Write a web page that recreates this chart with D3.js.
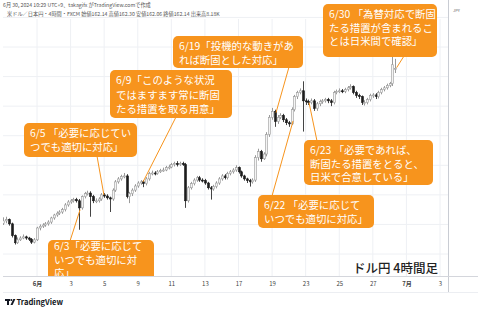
<!DOCTYPE html>
<meta charset="utf-8">
<script src="https://d3js.org/d3.v7.min.js"></script>
<style>
  body { margin: 0; background: #fff; }
  svg text { font-family: "Noto Sans CJK JP", "Noto Sans", sans-serif; }
</style>
<body>
<div id="chart"></div>
<script>
// USD/JPY 4h candles, early June -> 6/30
var opens = [159.52,159.56,159.58,159.51,159.31,159.19,159.24,159.27,159.29,159.27,
  159.25,159.20,159.24,159.44,159.47,159.49,159.51,159.54,159.61,159.66,
  159.69,159.71,159.75,159.83,159.88,159.90,159.92,159.90,159.78,159.97,
  160.02,160.03,159.97,159.90,159.90,159.93,160.00,159.98,159.95,159.93,
  160.08,160.22,160.27,160.31,160.32,159.97,160.02,160.08,160.15,160.20,
  160.22,160.19,160.27,160.36,160.37,160.36,160.39,160.41,160.42,160.46,
  160.47,160.51,160.53,160.51,160.53,160.51,159.90,160.12,160.19,160.25,
  160.29,160.25,160.24,160.20,160.12,160.10,160.14,160.20,160.27,160.32,
  160.29,160.36,160.39,160.42,160.46,160.39,160.32,160.27,160.24,160.22,
  160.25,160.63,160.73,160.61,160.69,161.02,161.31,161.41,161.24,161.31,
  161.34,161.27,161.22,161.20,161.44,161.66,161.73,161.76,161.59,161.58,
  161.56,161.59,161.46,161.54,161.58,161.59,161.61,161.59,161.56,161.73,
  161.75,161.76,161.75,161.78,161.81,161.83,161.73,161.68,161.66,161.56,
  161.56,161.61,161.68,161.69,161.66,161.73,161.78,161.81,161.85,161.88,
  162.14];
var highs = [159.62,159.63,159.60,159.53,159.33,159.28,159.30,159.33,159.31,159.29,
  159.27,159.27,159.46,159.50,159.52,159.54,159.57,159.63,159.68,159.72,
  159.74,159.78,159.86,159.91,159.93,159.95,159.95,159.93,159.99,160.05,
  160.07,160.06,160.00,159.94,159.96,160.03,160.03,160.01,159.97,160.11,
  160.25,160.30,160.34,160.37,160.35,160.05,160.11,160.18,160.23,160.25,
  160.25,160.30,160.39,160.41,160.40,160.42,160.44,160.46,160.49,160.51,
  160.54,160.56,160.57,160.56,160.56,160.54,160.15,160.22,160.28,160.32,
  160.32,160.28,160.27,160.22,160.15,160.17,160.23,160.30,160.35,160.35,
  160.39,160.42,160.45,160.50,160.48,160.41,160.34,160.29,160.27,160.28,
  160.67,160.78,160.76,160.72,161.06,161.35,161.47,161.44,161.35,161.38,
  161.37,161.30,161.25,161.48,161.69,161.76,161.80,161.92,161.63,161.61,
  161.63,161.62,161.57,161.61,161.62,161.64,161.64,161.62,161.76,161.78,
  161.80,161.79,161.81,161.84,161.87,161.85,161.76,161.71,161.68,161.60,
  161.64,161.71,161.72,161.72,161.76,161.81,161.84,161.88,161.91,162.35,
  162.30];
var lows = [159.49,159.52,159.48,159.28,159.16,159.17,159.22,159.25,159.24,159.22,
  159.17,159.18,159.22,159.40,159.44,159.46,159.48,159.51,159.58,159.63,
  159.66,159.68,159.72,159.80,159.85,159.87,159.87,159.41,159.75,159.94,
  159.99,159.63,159.86,159.86,159.87,159.90,159.95,159.92,159.71,159.90,
  160.05,160.19,160.24,160.28,159.94,159.86,159.98,160.05,160.12,160.17,
  160.13,160.16,160.24,160.33,160.33,160.34,160.37,160.39,160.40,160.43,
  160.45,160.48,160.48,160.49,160.49,159.78,159.87,160.09,160.16,160.22,
  160.22,160.21,160.17,160.09,159.92,160.07,160.11,160.17,160.24,160.26,
  160.26,160.33,160.36,160.39,160.36,160.29,160.24,160.20,160.14,160.19,
  160.22,160.58,160.56,160.59,160.65,160.98,161.27,161.15,161.20,161.28,
  161.23,161.18,161.15,161.18,161.41,161.62,161.70,161.07,161.52,161.52,
  161.53,161.42,161.42,161.50,161.54,161.56,161.55,161.50,161.53,161.70,
  161.72,161.72,161.72,161.75,161.78,161.70,161.64,161.62,161.52,161.51,
  161.53,161.58,161.64,161.62,161.63,161.70,161.75,161.78,161.82,161.84,
  162.06];
var closes = [159.56,159.58,159.51,159.31,159.19,159.24,159.27,159.29,159.27,159.25,
  159.20,159.24,159.44,159.47,159.49,159.51,159.54,159.61,159.66,159.69,
  159.71,159.75,159.83,159.88,159.90,159.92,159.90,159.78,159.97,160.02,
  160.03,159.97,159.90,159.90,159.93,160.00,159.98,159.95,159.93,160.08,
  160.22,160.27,160.31,160.32,159.97,160.02,160.08,160.15,160.20,160.22,
  160.19,160.27,160.36,160.37,160.36,160.39,160.41,160.42,160.46,160.47,
  160.51,160.53,160.51,160.53,160.51,159.90,160.12,160.19,160.25,160.29,
  160.25,160.24,160.20,160.12,160.10,160.14,160.20,160.27,160.32,160.29,
  160.36,160.39,160.42,160.46,160.39,160.32,160.27,160.24,160.22,160.25,
  160.63,160.73,160.61,160.69,161.02,161.31,161.41,161.24,161.31,161.34,
  161.27,161.22,161.20,161.44,161.66,161.73,161.76,161.59,161.58,161.56,
  161.59,161.46,161.54,161.58,161.59,161.61,161.59,161.56,161.73,161.75,
  161.76,161.75,161.78,161.81,161.83,161.73,161.68,161.66,161.56,161.56,
  161.61,161.68,161.69,161.66,161.73,161.78,161.81,161.85,161.88,162.20,
  162.14];

// price scale ticks
var yTicks = [159.00, 159.50, 160.00, 160.50, 161.00, 161.50, 162.00, 162.50, 163.00];
// time scale: bar index of each label, and the label
var xTickBars = [12, 24, 36, 48, 60, 72, 84, 96, 108, 120, 132, 144, 156];
var xTickLabels = ["6月", "3", "5", "9", "11", "13", "17", "19", "23", "25", "27", "7月", "3"];

// remarks, and the bar/price each one points at
var noteTexts = [
  ["6/30 「為替対応で断固", "たる措置が含まれるこ", "とは日米間で確認」"],
  ["6/19「投機的な動きがあ", "れば断固とした対応」"],
  ["6/9「このような状況", "ではますます常に断固", "たる措置を取る用意」"],
  ["6/5 「必要に応じてい", "つでも適切に対応」"],
  ["6/3「必要に応じて", "いつでも適切に対", "応」"],
  ["6/23 「必要であれば、", "断固たる措置をとると、", "日米で合意している」"],
  ["6/22 「必要に応じて", "いつでも適切に対応」"]
];
var noteBars = [140.5, 97.4, 49.9, 35.9, 27.4, 109.2, 103.5];
var notePrices = [162.15, 161.39, 160.22, 160.00, 159.75, 161.56, 161.25];

// box placement (layout only): box, first baseline offset, line height, pointer start
var noteBoxes = [
  {x: 323, y: 4,   w: 114, h: 53, ty: 14, lh: 13.5, ax: 404, ay: 56},
  {x: 173, y: 36,  w: 130, h: 32, ty: 14, lh: 14,   ax: 289, ay: 67},
  {x: 110, y: 70,  w: 122, h: 48, ty: 14, lh: 14.5, ax: 176, ay: 117},
  {x: 24,  y: 123, w: 113, h: 34, ty: 14, lh: 14,   ax: 97,  ay: 156},
  {x: 48,  y: 240, w: 106, h: 44, ty: 10, lh: 13.5, ax: 70,  ay: 241},
  {x: 304, y: 140, w: 129, h: 45, ty: 14, lh: 13.5, ax: 317, ay: 141},
  {x: 258, y: 195, w: 116, h: 33, ty: 14, lh: 14,   ax: 272, ay: 196}
];

var W = 480, H = 312;
var paneRight = 448, paneBottom = 276.5;
var orange = "#f7941d";

var svg = d3.select("#chart").append("svg")
  .attr("width", W)
  .attr("height", H);

var x = d3.scaleLinear().domain([12, 156]).range([37, 440]);
var y = d3.scaleLinear().domain([159, 162.5]).range([254, 47]);

svg.append("defs").append("clipPath").attr("id", "pane")
  .append("rect").attr("x", 3).attr("y", 0).attr("width", paneRight - 3).attr("height", paneBottom);
svg.select("defs").append("clipPath").attr("id", "scale")
  .append("rect").attr("x", paneRight).attr("y", 17.5).attr("width", 40).attr("height", 259);

// header text
svg.append("text").attr("x", 3).attr("y", 7)
  .attr("font-size", 5.2).attr("fill", "#555")
  .text("6月 30, 2024 10:29 UTC+9、takagifx がTradingView.comで作成");
svg.append("text").attr("x", 7).attr("y", 16)
  .attr("font-size", 5.2).attr("fill", "#555")
  .text("米ドル／日本円・4時間・FXCM  始値162.14  高値162.30  安値162.06  終値162.14  出来高8.18K");

var pane = svg.append("g").attr("clip-path", "url(#pane)");

// grid
pane.selectAll(".hgrid").data(yTicks).enter().append("line")
  .attr("x1", 3).attr("x2", paneRight)
  .attr("y1", function(d) { return y(d); })
  .attr("y2", function(d) { return y(d); })
  .attr("stroke", "#eef0f4").attr("stroke-width", 1);
pane.selectAll(".vgrid").data(xTickBars).enter().append("line")
  .attr("x1", function(d) { return x(d); })
  .attr("x2", function(d) { return x(d); })
  .attr("y1", 19).attr("y2", paneBottom)
  .attr("stroke", "#eef0f4").attr("stroke-width", 1);

// candles
var idx = d3.range(closes.length);
pane.selectAll(".wick").data(idx).enter().append("line")
  .attr("x1", function(i) { return Math.round(x(i)) + 0.5; })
  .attr("x2", function(i) { return Math.round(x(i)) + 0.5; })
  .attr("y1", function(i) { return y(highs[i]); })
  .attr("y2", function(i) { return y(lows[i]); })
  .attr("stroke", function(i) { return closes[i] >= opens[i] ? "#9a9a9a" : "#444"; })
  .attr("stroke-width", 1);
pane.selectAll(".body").data(idx).enter().append("rect")
  .attr("x", function(i) { return Math.round(x(i)) - 0.5; })
  .attr("width", 2)
  .attr("y", function(i) { return y(Math.max(opens[i], closes[i])); })
  .attr("height", function(i) { return Math.max(1, Math.abs(y(opens[i]) - y(closes[i]))); })
  .attr("fill", function(i) { return closes[i] >= opens[i] ? "#f4f4f4" : "#1c1c1c"; })
  .attr("stroke", function(i) { return closes[i] >= opens[i] ? "#9a9a9a" : "#1c1c1c"; })
  .attr("stroke-width", 0.6);

// pointer lines
pane.selectAll(".pointer").data(noteBoxes).enter().append("line")
  .attr("x1", function(d) { return d.ax; })
  .attr("y1", function(d) { return d.ay; })
  .attr("x2", function(d, i) { return x(noteBars[i]); })
  .attr("y2", function(d, i) { return y(notePrices[i]); })
  .attr("stroke", orange).attr("stroke-width", 1);

// note boxes
var notes = pane.selectAll(".note").data(noteBoxes).enter().append("g");
notes.append("rect")
  .attr("x", function(d) { return d.x; })
  .attr("y", function(d) { return d.y; })
  .attr("width", function(d) { return d.w; })
  .attr("height", function(d) { return d.h; })
  .attr("rx", 5)
  .attr("fill", orange);
notes.each(function(d, i) {
  var g = d3.select(this);
  noteTexts[i].forEach(function(t, k) {
    g.append("text")
      .attr("x", d.x + 6)
      .attr("y", d.y + d.ty + k * d.lh)
      .attr("font-size", 10.4)
      .attr("fill", "#fff")
      .text(t);
  });
});

// chart label
svg.append("text").attr("x", 438).attr("y", 273)
  .attr("text-anchor", "end")
  .attr("font-size", 12.5).attr("font-weight", 500).attr("fill", "#222")
  .text("ドル円 4時間足");

// price scale
svg.append("line").attr("x1", paneRight + 0.5).attr("x2", paneRight + 0.5)
  .attr("y1", 0).attr("y2", 292).attr("stroke", "#c9ccd3");
var yAxis = svg.append("g")
  .attr("clip-path", "url(#scale)")
  .attr("transform", "translate(" + paneRight + ",0)")
  .call(d3.axisRight(y).tickValues(yTicks).tickFormat(d3.format(".2f")).tickSize(0).tickPadding(5));
yAxis.select(".domain").remove();
yAxis.selectAll("text").attr("font-size", 6.5).attr("fill", "#444")
  .attr("font-family", "'Noto Sans', sans-serif");
svg.append("text").attr("x", 453).attr("y", 11.5)
  .attr("font-size", 4).attr("fill", "#666").text("JPY");

// time scale
svg.append("line").attr("x1", 3).attr("x2", 478)
  .attr("y1", paneBottom).attr("y2", paneBottom).attr("stroke", "#d4d6dc");
svg.append("line").attr("x1", 3).attr("x2", 478)
  .attr("y1", 292.5).attr("y2", 292.5).attr("stroke", "#eceef2");
var xAxis = svg.append("g")
  .attr("transform", "translate(0," + (paneBottom + 2) + ")")
  .call(d3.axisBottom(x).tickValues(xTickBars)
    .tickFormat(function(d, i) { return xTickLabels[i]; })
    .tickSize(0).tickPadding(3));
xAxis.select(".domain").remove();
xAxis.selectAll("text").attr("font-size", 6).attr("fill", "#444")
  .attr("font-weight", function(d, i) { return xTickLabels[i].indexOf("月") > 0 ? 700 : 400; });

// TradingView mark
var logo = svg.append("g").attr("fill", "#131722");
logo.append("rect").attr("x", 5).attr("y", 299).attr("width", 5).attr("height", 2);
logo.append("rect").attr("x", 7).attr("y", 299).attr("width", 2).attr("height", 6);
logo.append("circle").attr("cx", 11.3).attr("cy", 300).attr("r", 1);
logo.append("path").attr("d", "M10.5 305 L12.6 305 L15.4 299 L13.3 299 Z");
svg.append("text").attr("x", 16.5).attr("y", 305)
  .attr("font-size", 7.6).attr("font-weight", 700).attr("fill", "#131722")
  .attr("font-family", "'Noto Sans', sans-serif")
  .text("TradingView");
</script>
</body>
